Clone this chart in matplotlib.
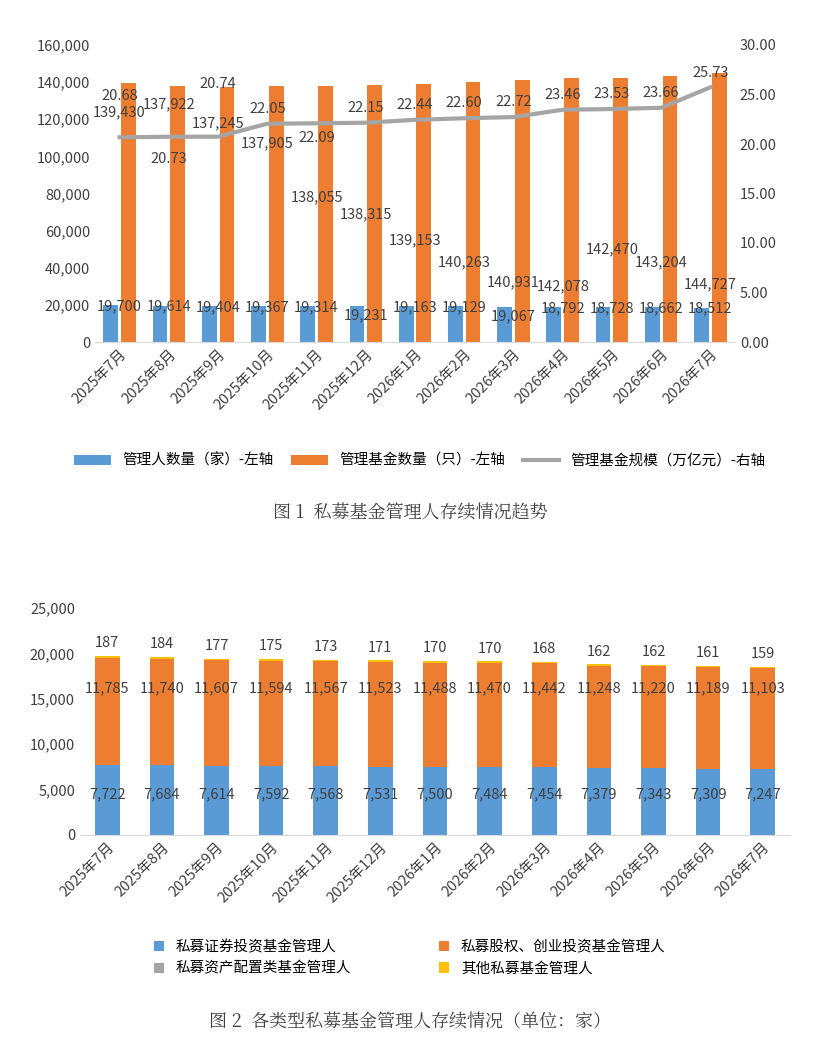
import matplotlib
matplotlib.use("Agg")
import matplotlib.pyplot as plt
import numpy as np

plt.rcParams['font.family'] = ['Noto Sans CJK SC', 'DejaVu Sans']

months = ["2025年7月","2025年8月","2025年9月","2025年10月","2025年11月","2025年12月",
          "2026年1月","2026年2月","2026年3月","2026年4月","2026年5月","2026年6月","2026年7月"]
managers = [19700,19614,19404,19367,19314,19231,19163,19129,19067,18792,18728,18662,18512]
funds = [139430,137922,137245,137905,138055,138315,139153,140263,140931,142078,142470,143204,144727]
scale = [20.68,20.73,20.74,22.05,22.09,22.15,22.44,22.60,22.72,23.46,23.53,23.66,25.73]

sec = [7722,7684,7614,7592,7568,7531,7500,7484,7454,7379,7343,7309,7247]
pe = [11785,11740,11607,11594,11567,11523,11488,11470,11442,11248,11220,11189,11103]
alloc = [8,8,8,8,8,8,8,8,8,8,8,8,8]
other = [187,184,177,175,173,171,170,170,168,162,162,161,159]

blue = '#5B9BD5'; orange = '#ED7D31'; gray = '#A5A5A5'; yellow = '#FFC000'
tc = '#404040'; fs = 10.5
W, H = 817, 1041
fig = plt.figure(figsize=(W/100, H/100), dpi=100)

def ax_px(l, t, r, b):
    return fig.add_axes([l/W, 1-b/H, (r-l)/W, (b-t)/H])

x = np.arange(len(months))
# --- chart 1
ax = ax_px(95, 45, 735, 342)
ax.bar(x-0.18, managers, 0.3, color=blue, label='管理人数量（家）-左轴')
ax.bar(x+0.18, funds, 0.3, color=orange, label='管理基金数量（只）-左轴')
ax.set_ylim(0, 160000); ax.set_yticks(range(0, 160001, 20000))
ax.set_yticklabels([f"{v:,}" for v in range(0, 160001, 20000)])
ax.set_xlim(-0.5, len(x)-0.5)
ax.set_xticks(x); ax.set_xticklabels(months, rotation=45, ha='right', rotation_mode='anchor')
for s in ['top','right','left']: ax.spines[s].set_visible(False)
ax.spines['bottom'].set_color('#D9D9D9')
ax.tick_params(length=0, labelsize=fs, colors=tc)
fund_lab_y = [124000,128000,118000,107000,78000,69000,55000,43000,32000,30000,50000,43000,31000]
for i in x:
    ax.text(i, managers[i]-600 if i not in (5,8) else managers[i]-5000, f"{managers[i]:,}",
            ha='center', va='center', fontsize=fs, color=tc)
    ax.text(i, fund_lab_y[i], f"{funds[i]:,}", ha='center', va='center', fontsize=fs, color=tc)
ax2 = ax.twinx()
ax2.plot(x, scale, color=gray, lw=3, label='管理基金规模（万亿元）-右轴')
ax2.set_ylim(0, 30); ax2.set_yticks(np.arange(0, 30.1, 5))
ax2.set_yticklabels([f"{v:.2f}" for v in np.arange(0, 30.1, 5)])
for s in ax2.spines.values(): s.set_visible(False)
ax2.tick_params(length=0, labelsize=fs, colors=tc)
offs = [4.2,-2.2,5.3,1.5,-1.5,1.5,1.5,1.5,1.5,1.5,1.5,1.5,1.4]
for i in x:
    ax2.text(i, scale[i]+offs[i], f"{scale[i]:.2f}", ha='center', va='center', fontsize=fs, color=tc)
h1, l1 = ax.get_legend_handles_labels(); h2, l2 = ax2.get_legend_handles_labels()
fig.legend(h1+h2, l1+l2, loc='center', bbox_to_anchor=(420/W, 1-461/H), ncol=3, frameon=False,
           fontsize=fs, handlelength=2.5, columnspacing=1.2)
fig.text(410/W, 1-513/H, '图 1  私募基金管理人存续情况趋势', ha='center', va='center', fontsize=13,
         family=['Noto Serif CJK SC','Noto Sans CJK SC','DejaVu Sans'], color=tc)

# --- chart 2
bx = ax_px(80, 608, 790, 835)
b1 = np.array(sec); b2 = b1+np.array(pe); b3 = b2+np.array(alloc)
hb = [bx.bar(x, sec, 0.45, color=blue),
      bx.bar(x, pe, 0.45, bottom=b1, color=orange),
      bx.bar(x, alloc, 0.45, bottom=b2, color=gray),
      bx.bar(x, other, 0.45, bottom=b3, color=yellow)]
lb = ['私募证券投资基金管理人', '私募股权、创业投资基金管理人', '私募资产配置类基金管理人', '其他私募基金管理人']
bx.set_ylim(0, 25000); bx.set_yticks(range(0, 25001, 5000))
bx.set_yticklabels([f"{v:,}" for v in range(0, 25001, 5000)])
bx.set_xlim(-0.5, len(x)-0.5)
bx.set_xticks(x); bx.set_xticklabels(months, rotation=45, ha='right', rotation_mode='anchor')
for s in ['top','right','left']: bx.spines[s].set_visible(False)
bx.spines['bottom'].set_color('#D9D9D9')
bx.tick_params(length=0, labelsize=fs, colors=tc)
for i in x:
    bx.text(i, 4500, f"{sec[i]:,}", ha='center', va='center', fontsize=fs, color=tc)
    bx.text(i, 16200, f"{pe[i]:,}", ha='center', va='center', fontsize=fs, color=tc)
    bx.text(i, b3[i]+other[i]+1400, f"{other[i]}", ha='center', va='center', fontsize=fs, color=tc)
order = [0, 2, 1, 3]
fig.legend([hb[k] for k in order], [lb[k] for k in order], loc='center',
           bbox_to_anchor=(410/W, 1-958/H), ncol=2, frameon=False,
           fontsize=fs, handlelength=0.7, handleheight=0.7, columnspacing=6)
fig.text(410/W, 1-1022/H, '图 2  各类型私募基金管理人存续情况（单位：家）', ha='center', va='center', fontsize=13,
         family=['Noto Serif CJK SC','Noto Sans CJK SC','DejaVu Sans'], color=tc)
fig.savefig('out.png', dpi=100)
